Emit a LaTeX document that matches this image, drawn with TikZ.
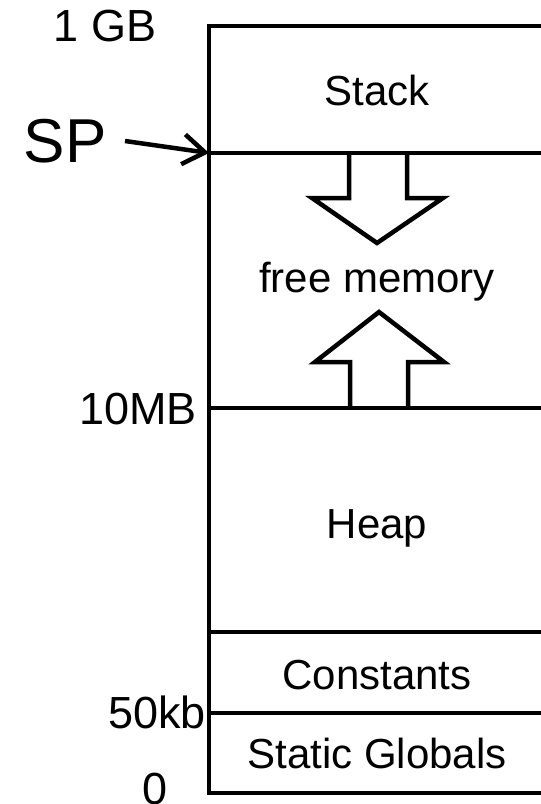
\documentclass[tikz,border=0pt]{standalone}
\usepackage{fontspec}
\setmainfont{Liberation Sans}
\usetikzlibrary{arrows.meta}
\begin{document}
\begin{tikzpicture}[x=1pt,y=-1pt,
  wall/.style={line width=4.5pt},
  label/.style={font=\fontsize{42}{48}\selectfont, inner sep=0pt},
  addrfont/.style={font=\fontsize{45}{52}\selectfont, inner sep=0pt},
  addr/.style={addrfont, anchor=east},
  growarrow/.style={line width=4.5pt, fill=white, line join=miter}]
\useasboundingbox (0,0) rectangle (541,804);
% block arrows: stack grows down, heap grows up (drawn first so the lines pass over them)
\draw[growarrow] (349,153) -- (349,198) -- (312,198) -- (377,243) -- (443,198) -- (407,198) -- (407,153);
\draw[growarrow] (350,408) -- (350,362) -- (315,362) -- (379,312) -- (444,362) -- (408,362) -- (408,408);
% region boundaries
\coordinate (top) at (209,26);
\coordinate (bot) at (209,793);
\draw[wall] (541,26) -- (top) -- (bot) -- (541,793);
\coordinate (spl) at (209,153);
\draw[wall] (spl) -- (541,153);
\coordinate (mbl) at (209,408);
\draw[wall] (mbl) -- (541,408);
\draw[wall] (209,632) -- (541,632);
\coordinate (kbl) at (209,713);
\draw[wall] (kbl) -- (541,713);
% region labels
\node[label] (stack) at (377,90) {Stack};
\node[label] (free) at (377,282) {free memory};
\node[label] (heap) at (377,528) {Heap};
\node[label] (const) at (377,675) {Constants};
\node[label] (glob) at (377,753) {Static Globals};
% address labels
\node[addrfont] (gb) at (105,26) {1 GB};
\node[addr] (mb) at (197,409) {10MB};
\node[addr] (kb) at (206,712) {50kb};
\node[addrfont] (zero) at (155,789) {0};
% stack pointer
\node[font=\fontsize{62}{70}\selectfont, inner sep=0pt] (sp) at (65,141) {SP};
\coordinate (spfrom) at (125,141);
\draw[line width=4.5pt, -{Straight Barb[length=22pt,width=30pt,line width=4.5pt]}] (spfrom) -- (spl);
\end{tikzpicture}
\end{document}
